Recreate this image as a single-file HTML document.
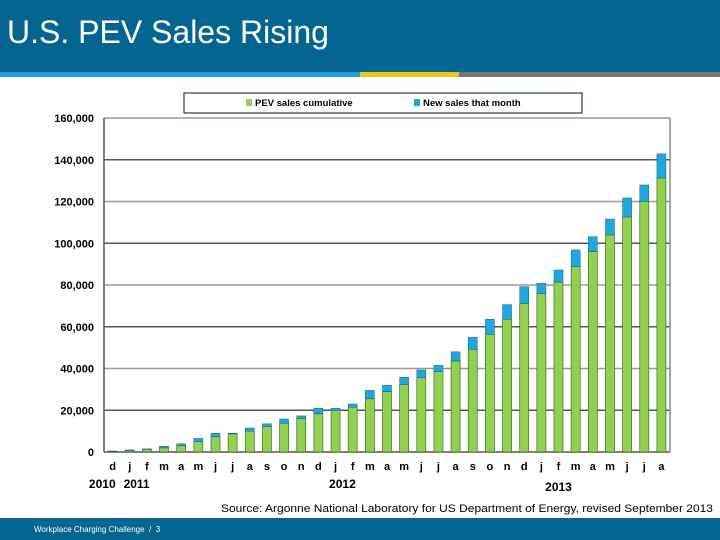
<!DOCTYPE html>
<html><head><meta charset="utf-8"><style>
body{margin:0;width:720px;height:540px;background:#fff;overflow:hidden;font-family:"Liberation Sans",sans-serif;position:relative}
</style></head><body>
<div style="position:absolute;left:0;top:0;width:720px;height:72px;background:#046492"></div>
<div style="position:absolute;left:7px;top:14px;color:#fff;font-size:32px">U.S. PEV Sales Rising</div>
<div style="position:absolute;left:0;top:72px;width:360px;height:5px;background:#1aa0dc"></div>
<div style="position:absolute;left:360px;top:72px;width:99px;height:5px;background:#f2c419"></div>
<div style="position:absolute;left:459px;top:72px;width:261px;height:5px;background:#777"></div>
<div style="position:absolute;left:0;top:518px;width:720px;height:22px;background:#046492"></div>
<div style="position:absolute;left:34px;top:525px;color:#fff;font-size:8px">Workplace Charging Challenge &nbsp;/ &nbsp;3</div>
<svg id="c" width="720" height="540" style="position:absolute;left:0;top:0"></svg>
<script>
const months=["d","j","f","m","a","m","j","j","a","s","o","n","d","j","f","m","a","m","j","j","a","s","o","n","d","j","f","m","a","m","j","j","a"];
const cumulative=[0.3,0.6,1.3,2.0,3.0,5.0,7.3,8.7,10.0,12.2,13.8,16.0,18.3,20.0,21.5,25.5,28.9,32.4,35.6,38.5,43.6,49.2,56.4,63.6,71.2,76.0,81.4,88.8,96.0,104.0,112.6,120.1,131.3];
const totals=[0.5,1.0,1.5,2.8,3.9,6.5,9.0,9.0,11.5,13.5,15.8,17.3,21.0,21.0,23.0,29.5,32.0,35.8,39.3,41.5,48.0,55.0,63.6,70.6,79.2,80.8,87.2,96.8,103.1,111.6,121.7,127.9,142.8];
const yTicks=[0,20,40,60,80,100,120,140,160];
const yearLabels=["2010","2011","2012","2013"];
const yearPos=[-0.6,1.4,13.4,26.0];
const svg=document.getElementById('c');const NS="http://www.w3.org/2000/svg";
function el(t,a,txt){const e=document.createElementNS(NS,t);for(const k in a)e.setAttribute(k,a[k]);if(txt!==undefined)e.textContent=txt;svg.appendChild(e);return e;}
const L=104,R=670,T=118,B=452;const slot=(R-L)/months.length;
const y=v=>B-(v/160)*(B-T);const x=i=>L+slot*(i+0.5);
yTicks.forEach(v=>{
 const g=el('line',{x1:L,x2:R,y1:y(v),y2:y(v),stroke:v%40==0&&v>0?'#999':'#555','stroke-width':1.5});
 
 const t=el('text',{x:L-10,y:y(v)+4,'text-anchor':'end','font-size':11,'font-weight':'bold',fill:'#000'},v==0?'0':(v*1000).toLocaleString('en-US'));
 
});
let ax=el('line',{x1:L,x2:L,y1:T,y2:B,stroke:'#555','stroke-width':1.5});
let ax2=el('line',{x1:R,x2:R,y1:T,y2:B,stroke:'#888','stroke-width':1.5});
const bw=9;
months.forEach((m,i)=>{
 const g=el('rect',{x:x(i)-bw/2,y:y(cumulative[i]),width:bw,height:B-y(cumulative[i]),fill:'#92d050',stroke:'#3d6e2a','stroke-width':0.7});
 
 const b=el('rect',{x:x(i)-bw/2,y:y(totals[i]),width:bw,height:y(cumulative[i])-y(totals[i]),fill:'#1fa8e0',stroke:'#1d5f80','stroke-width':0.5});
 
 const t=el('text',{x:x(i),y:470,'text-anchor':'middle','font-size':11,'font-weight':'bold'},m);
 
});
yearLabels.forEach((yr,k)=>{
 const t=el('text',{x:x(yearPos[k]),y:yr=="2013"?491:488,'text-anchor':'middle','font-size':12,'font-weight':'bold'},yr);
 
});
let lg=el('rect',{x:184,y:93,width:398,height:20,fill:'#fff',stroke:'#1f3864','stroke-width':1.2});

let s1=el('rect',{x:246,y:99,width:6,height:7,fill:'#92d050'});
let l1=el('text',{x:255,y:106,'font-size':9.5,'font-weight':'bold'},'PEV sales cumulative');
let s2=el('rect',{x:414,y:99,width:6,height:7,fill:'#1fa8e0'});
let l2=el('text',{x:423,y:106,'font-size':9.5,'font-weight':'bold'},'New sales that month');
let src=el('text',{x:221,y:512,'font-size':11,textLength:492,lengthAdjust:'spacingAndGlyphs',fill:'#000'},'Source: Argonne National Laboratory for US Department of Energy, revised September 2013');

</script>
</body></html>
